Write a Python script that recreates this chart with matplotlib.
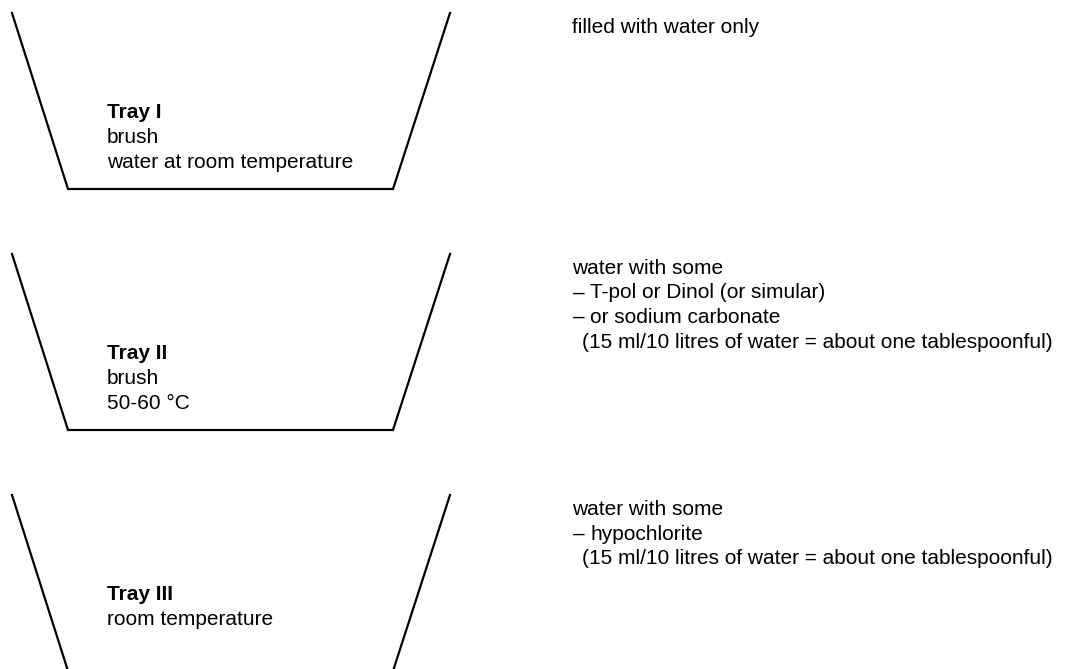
import matplotlib
matplotlib.use("Agg")
import matplotlib.pyplot as plt

# ==========================================
# Diagram content
# ==========================================

tray_names = ["Tray I", "Tray II", "Tray III"]
tray_notes = [
    ["brush", "water at room temperature"],
    ["brush", "50-60 °C"],
    ["room temperature"],
]
# what each tray is filled with: (bullet, text) per line
fill_notes = [
    [("", "filled with water only")],
    [("", "water with some"),
     ("–", "T-pol or Dinol (or simular)"),
     ("–", "or sodium carbonate"),
     (" ", "(15 ml/10 litres of water = about one tablespoonful)")],
    [("", "water with some"),
     ("–", "hypochlorite"),
     (" ", "(15 ml/10 litres of water = about one tablespoonful)")],
]

# tray outline, in pixel coords (y down)
tray_top = [13, 254, 495]
tray_depth = 176
top_left, bottom_left, bottom_right, top_right = 12, 68, 393, 450

W, H = 1082, 669
fig = plt.figure(figsize=(W / 100, H / 100), dpi=100)
ax = fig.add_axes([0, 0, 1, 1])
ax.set_xlim(0, W)
ax.set_ylim(H, 0)
ax.axis("off")

font = "Liberation Sans"
fs = 15
line_h = 25
right_h = 24.5

for i, top in enumerate(tray_top):
    bottom = top + tray_depth
    ax.plot([top_left, bottom_left, bottom_right, top_right],
            [top, bottom, bottom, top],
            color="black", lw=1.6, solid_joinstyle="miter", clip_on=True)

    # labels inside the tray, anchored from the bottom
    first = bottom - 71
    ax.text(107, first, tray_names[i], fontsize=fs, fontweight="bold",
            family=font, va="baseline")
    for j, note in enumerate(tray_notes[i]):
        ax.text(107, first + (j + 1) * line_h, note, fontsize=fs,
                family=font, va="baseline")

    # what the tray holds, on the right
    y = top + 20
    for bullet, txt in fill_notes[i]:
        if bullet == "":
            ax.text(572, y, txt, fontsize=fs, family=font, va="baseline")
        elif bullet == " ":
            ax.text(582, y, txt, fontsize=fs, family=font, va="baseline")
        else:
            ax.text(573, y, bullet, fontsize=fs, family=font, va="baseline")
            ax.text(590, y, txt, fontsize=fs, family=font, va="baseline")
        y += right_h

fig.savefig("out.png", dpi=100, facecolor="white")
